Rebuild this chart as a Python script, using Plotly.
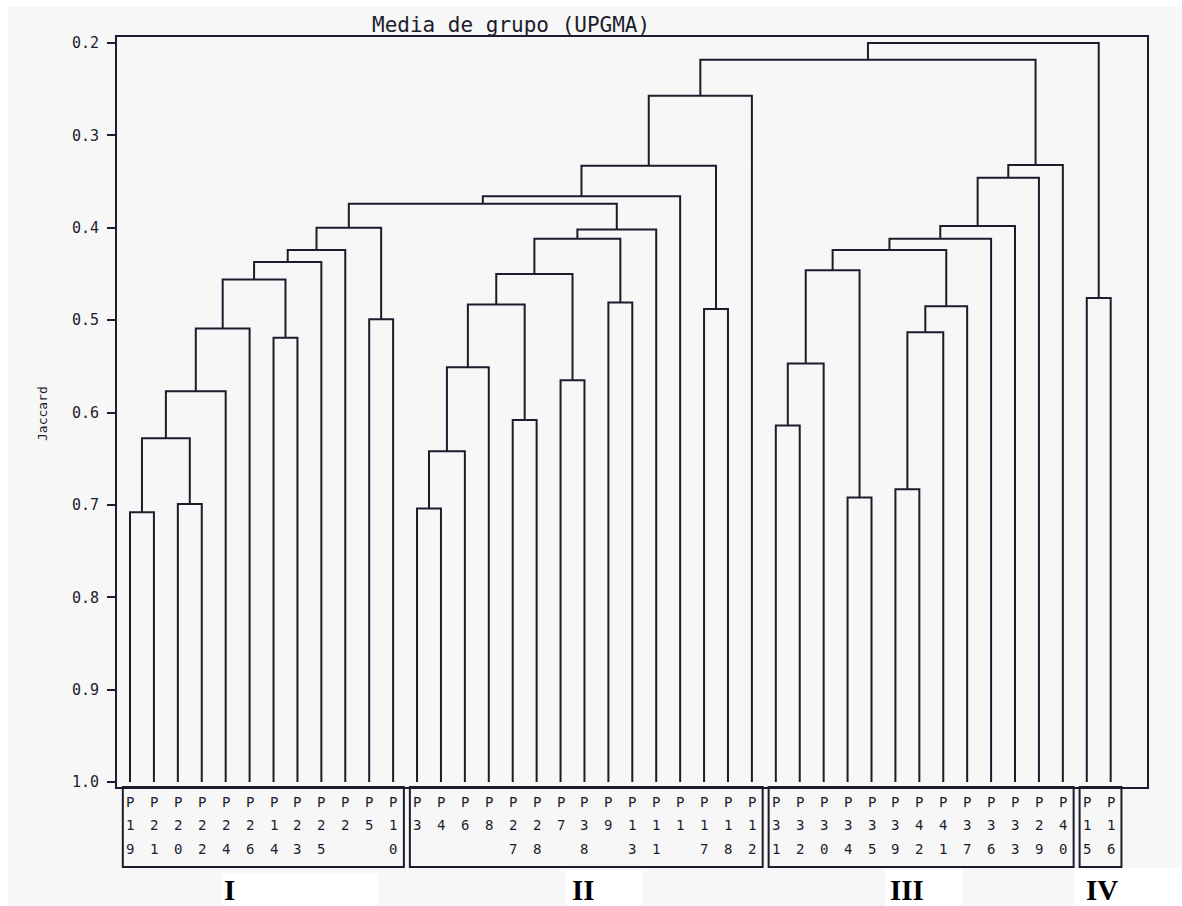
import plotly.graph_objects as go

# ---------------- data ----------------
leaf_labels = ["P19", "P21", "P20", "P22", "P24", "P26", "P14", "P23", "P25", "P2", "P5", "P10",
               "P3", "P4", "P6", "P8", "P27", "P28", "P7", "P38", "P9", "P13", "P11", "P1", "P17", "P18", "P12",
               "P31", "P32", "P30", "P34", "P35", "P39", "P42", "P41", "P37", "P36", "P33", "P29", "P40",
               "P15", "P16"]

# merge k creates node id 42+k ; children are leaf indices (<42) or node ids
merge_left = [0, 2, 42, 44, 45, 6, 46, 48, 49, 10, 50,
              12, 53, 54, 16, 55, 18, 57, 20, 59, 61, 52, 63, 24, 64, 66,
              27, 68, 30, 69, 32, 72, 73, 71, 75, 76, 77, 78, 67,
              40, 80]
merge_right = [1, 3, 43, 4, 5, 7, 47, 8, 9, 11, 51,
               13, 14, 15, 17, 56, 19, 58, 21, 60, 22, 62, 23, 25, 65, 26,
               28, 29, 31, 70, 33, 34, 35, 74, 36, 37, 38, 39, 79,
               41, 81]
merge_height = [0.708, 0.699, 0.628, 0.577, 0.509, 0.519, 0.456, 0.437, 0.424, 0.499, 0.400,
                0.704, 0.642, 0.551, 0.608, 0.483, 0.565, 0.450, 0.481, 0.412, 0.402, 0.374, 0.366,
                0.488, 0.333, 0.257,
                0.614, 0.547, 0.692, 0.446, 0.683, 0.513, 0.485, 0.424, 0.412, 0.398, 0.346, 0.332,
                0.218, 0.476, 0.200]

group_names = ["I", "II", "III", "IV"]
group_first = [0, 12, 27, 40]
group_last = [11, 26, 39, 41]
group_label_px = [229, 583, 907, 1102]

y_ticks = [0.2, 0.3, 0.4, 0.5, 0.6, 0.7, 0.8, 0.9, 1.0]

# ---------------- geometry helpers ----------------
LINE = "#1c1c2c"
W, H = 1182, 906
ML, MR, MT, MB = 117, 35, 37, 119
PW, PH = W - ML - MR, H - MT - MB
X_RANGE = [-0.5435, 42.518]
Y_RANGE = [1.0054, 0.1935]


def px_to_paper_x(px):
    return (px - ML) / PW


def px_to_paper_y(py):
    return (MT + PH - py) / PH


n = len(leaf_labels)
pos = {i: float(i) for i in range(n)}
hgt = {i: 1.0 for i in range(n)}
xs, ys = [], []
for k, (l, r, h) in enumerate(zip(merge_left, merge_right, merge_height)):
    nid = n + k
    xs += [pos[l], pos[l], pos[r], pos[r], None]
    ys += [hgt[l], h, h, hgt[r], None]
    pos[nid] = (pos[l] + pos[r]) / 2
    hgt[nid] = h

fig = go.Figure()
fig.add_trace(go.Scatter(x=xs, y=ys, mode="lines",
                         line=dict(color=LINE, width=2), hoverinfo="skip",
                         showlegend=False))

annotations = []
# leaf labels, three stacked rows of characters
row_px = [801.5, 825, 848.5]
for r, py in enumerate(row_px):
    for i, lab in enumerate(leaf_labels):
        if len(lab) > r:
            annotations.append(dict(text=lab[r], xref="x", yref="paper",
                                    x=i, y=px_to_paper_y(py),
                                    xanchor="center", yanchor="middle", showarrow=False,
                                    font=dict(family="DejaVu Sans Mono", size=14, color=LINE)))

shapes = []
# white patches of the scanned page
white_boxes = [(0, 0, 1182, 7), (0, 0, 8, 906), (222, 874, 378, 906), (566, 870, 642, 906),
               (885, 868, 962, 906), (1074, 868, 1182, 906)]
for x0, y0, x1, y1 in white_boxes:
    shapes.append(dict(type="rect", xref="paper", yref="paper", layer="below",
                       x0=px_to_paper_x(x0), x1=px_to_paper_x(x1),
                       y0=px_to_paper_y(y0), y1=px_to_paper_y(y1),
                       line=dict(width=0), fillcolor="white"))

# boxes around groups of labels
for f, l in zip(group_first, group_last):
    shapes.append(dict(type="rect", xref="x", yref="paper",
                       x0=f - 0.3, x1=l + 0.45,
                       y0=px_to_paper_y(867), y1=0,
                       line=dict(color=LINE, width=2)))

for name, px in zip(group_names, group_label_px):
    annotations.append(dict(text=name, xref="paper", yref="paper",
                            x=px_to_paper_x(px), y=px_to_paper_y(890),
                            xanchor="center", yanchor="middle", showarrow=False,
                            font=dict(family="Liberation Serif", size=29, color="black",
                                      weight="bold")))

annotations.append(dict(text="Media de grupo (UPGMA)", xref="paper", yref="paper",
                        x=px_to_paper_x(511), y=px_to_paper_y(25),
                        xanchor="center", yanchor="middle", showarrow=False,
                        font=dict(family="DejaVu Sans Mono", size=21, color=LINE)))
annotations.append(dict(text="Jaccard", xref="paper", yref="paper",
                        x=px_to_paper_x(43), y=px_to_paper_y(414),
                        xanchor="center", yanchor="middle", showarrow=False, textangle=-90,
                        font=dict(family="DejaVu Sans Mono", size=13, color=LINE)))

fig.update_layout(
    width=W, height=H,
    margin=dict(l=ML, r=MR, t=MT, b=MB, pad=0),
    paper_bgcolor="#f7f7f7", plot_bgcolor="#f7f7f7",
    shapes=shapes, annotations=annotations,
    xaxis=dict(range=X_RANGE, showgrid=False, zeroline=False, showticklabels=False,
               ticks="", showline=True, mirror=True, linecolor=LINE, linewidth=2,
               fixedrange=True),
    yaxis=dict(range=Y_RANGE, showgrid=False, zeroline=False,
               tickmode="array", tickvals=y_ticks, ticktext=[f"{v:.1f}" for v in y_ticks],
               ticks="outside", ticklen=8, tickwidth=2, tickcolor=LINE,
               ticklabelstandoff=5,
               tickfont=dict(family="DejaVu Sans Mono", size=15, color=LINE),
               showline=True, mirror=True, linecolor=LINE, linewidth=2, fixedrange=True),
)

fig.write_html("out.html", config={"displayModeBar": False},
               post_script="document.body.style.margin='0px';"
                           "document.body.style.overflow='hidden';")
